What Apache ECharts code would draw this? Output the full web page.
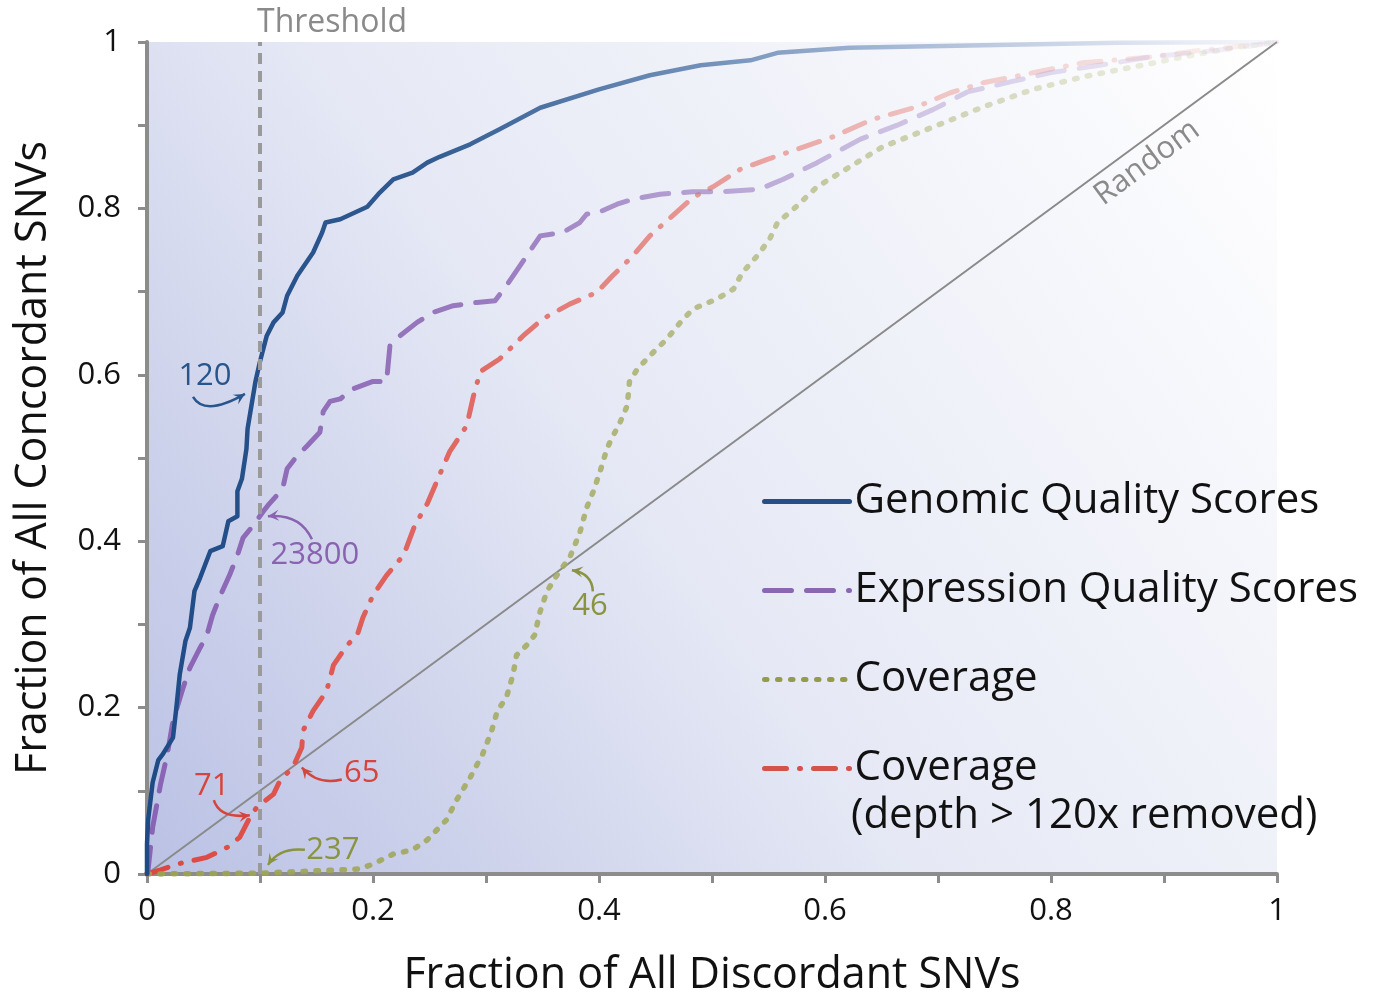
<!DOCTYPE html>
<html><head><meta charset="utf-8">
<script src="https://cdn.jsdelivr.net/npm/echarts@6/dist/echarts.min.js"></script>
<style>html,body{margin:0;padding:0;background:#fff}#main{width:1375px;height:1002px}</style>
</head><body><div id="main"></div>
<script>
// ---------- DATA ----------
const seriesNames = ['Genomic Quality Scores','Expression Quality Scores','Coverage','Coverage (depth > 120x removed)'];
const xTickValues = [0,0.2,0.4,0.6,0.8,1];
const threshold = 0.1;
const genomic = [[0,0],[0,0.036],[0.001,0.065],[0.005,0.11],[0.01,0.137],[0.014,0.144],[0.023,0.164],[0.026,0.2],[0.029,0.24],[0.034,0.28],[0.038,0.296],[0.042,0.34],[0.047,0.356],[0.056,0.388],[0.067,0.394],[0.072,0.424],[0.08,0.43],[0.08,0.46],[0.084,0.475],[0.088,0.511],[0.089,0.535],[0.096,0.592],[0.1,0.616],[0.106,0.647],[0.112,0.663],[0.12,0.675],[0.124,0.695],[0.133,0.719],[0.147,0.747],[0.155,0.771],[0.158,0.783],[0.171,0.787],[0.195,0.802],[0.206,0.819],[0.218,0.835],[0.235,0.843],[0.248,0.855],[0.259,0.862],[0.286,0.877],[0.312,0.895],[0.348,0.921],[0.4,0.943],[0.445,0.96],[0.49,0.972],[0.534,0.978],[0.558,0.987],[0.622,0.993],[0.74,0.996],[0.858,0.999],[1,1]];
const expression = [[0,0],[0.001,0.005],[0.005,0.056],[0.012,0.108],[0.018,0.144],[0.023,0.184],[0.032,0.224],[0.038,0.248],[0.047,0.272],[0.053,0.287],[0.058,0.311],[0.065,0.335],[0.073,0.359],[0.08,0.383],[0.085,0.404],[0.094,0.419],[0.103,0.436],[0.107,0.443],[0.12,0.463],[0.124,0.487],[0.133,0.503],[0.142,0.515],[0.153,0.531],[0.156,0.556],[0.162,0.568],[0.171,0.571],[0.182,0.583],[0.2,0.592],[0.212,0.592],[0.215,0.635],[0.224,0.647],[0.239,0.663],[0.253,0.675],[0.271,0.683],[0.292,0.687],[0.308,0.689],[0.318,0.707],[0.33,0.731],[0.34,0.751],[0.348,0.767],[0.368,0.771],[0.383,0.783],[0.389,0.793],[0.401,0.796],[0.416,0.805],[0.43,0.811],[0.454,0.817],[0.483,0.82],[0.507,0.82],[0.542,0.823],[0.563,0.835],[0.593,0.855],[0.631,0.883],[0.664,0.9],[0.696,0.919],[0.726,0.94],[0.764,0.952],[0.799,0.963],[0.843,0.972],[0.888,0.982],[0.947,0.99],[0.982,0.996],[1,1]];
const coverage = [[0,0],[0.1,0.001],[0.171,0.005],[0.188,0.006],[0.2,0.012],[0.218,0.024],[0.235,0.029],[0.248,0.041],[0.265,0.065],[0.274,0.089],[0.286,0.116],[0.297,0.144],[0.305,0.172],[0.31,0.196],[0.318,0.212],[0.324,0.24],[0.327,0.263],[0.336,0.275],[0.343,0.287],[0.348,0.316],[0.354,0.34],[0.365,0.364],[0.374,0.38],[0.383,0.41],[0.389,0.44],[0.395,0.46],[0.401,0.484],[0.407,0.511],[0.41,0.52],[0.419,0.544],[0.425,0.563],[0.427,0.592],[0.434,0.607],[0.445,0.623],[0.46,0.643],[0.472,0.663],[0.483,0.679],[0.504,0.691],[0.519,0.703],[0.527,0.723],[0.54,0.743],[0.551,0.763],[0.558,0.783],[0.572,0.799],[0.593,0.826],[0.622,0.85],[0.651,0.874],[0.696,0.898],[0.74,0.922],[0.784,0.943],[0.828,0.958],[0.873,0.97],[0.917,0.982],[0.961,0.993],[1,1]];
const coverageFiltered = [[0,0],[0.012,0.005],[0.027,0.012],[0.053,0.02],[0.071,0.032],[0.082,0.044],[0.088,0.06],[0.091,0.068],[0.097,0.08],[0.112,0.096],[0.118,0.113],[0.129,0.128],[0.137,0.152],[0.138,0.172],[0.147,0.196],[0.159,0.22],[0.165,0.251],[0.177,0.275],[0.186,0.287],[0.191,0.308],[0.2,0.335],[0.212,0.359],[0.227,0.383],[0.237,0.419],[0.248,0.445],[0.259,0.48],[0.268,0.508],[0.283,0.539],[0.289,0.575],[0.295,0.604],[0.312,0.619],[0.321,0.631],[0.333,0.647],[0.35,0.667],[0.374,0.685],[0.398,0.699],[0.412,0.719],[0.43,0.743],[0.445,0.767],[0.465,0.791],[0.483,0.813],[0.501,0.826],[0.525,0.847],[0.549,0.859],[0.575,0.871],[0.607,0.886],[0.642,0.907],[0.681,0.922],[0.711,0.939],[0.74,0.951],[0.784,0.963],[0.828,0.975],[0.888,0.982],[0.932,0.99],[0.976,0.996],[1,1]];
const randomLine = [[0,0],[1,1]];
const thresholdLine = [[threshold,0],[threshold,1]];
const annotationLabels = ['120','23800','71','65','237','46'];
const annotationTargets = [[0.0867,0.577],[0.107,0.43],[0.091,0.0707],[0.137,0.128],[0.107,0.011],[0.376,0.365]];

// ---------- STYLE ----------
const FONT = '"Open Sans", "Noto Sans", sans-serif';
const AXIS = '#8c8c8c';
const legendColors = ['#274f86','#8a67b3','#939c48','#d4524c'];
const annColors = ['#28568c','#8a63b0','#d6453d','#d6453d','#8a9440','#8a9440'];
// [textDx,textDy, startDx,startDy, ctrlDx,ctrlDy] in px relative to arrow tip
const annOffsets = [[-40,-18,-52,3,-40,23],[47,39,44,23,32,-3],[-38,-29,-36,-15,-30,4],[60,6,40,12,16,18],[65,-15,37,-15,12,-18],[18,36,21,21,20,3]];

function grad(stops){
  return new echarts.graphic.LinearGradient(0,0,1,0, stops.map(s=>({offset:s[0],color:s[1]})));
}
const lineColors = [
  grad([[0,'rgba(30,74,134,1)'],[0.25,'rgba(40,84,140,0.95)'],[0.5,'rgba(80,118,168,0.78)'],[0.8,'rgba(125,152,196,0.38)'],[1,'rgba(150,170,210,0.08)']]),
  grad([[0,'rgba(138,100,180,1)'],[0.3,'rgba(145,110,185,0.9)'],[0.6,'rgba(165,140,200,0.6)'],[1,'rgba(200,185,225,0.15)']]),
  grad([[0,'rgba(155,162,82,0.95)'],[0.4,'rgba(165,172,98,0.85)'],[0.7,'rgba(180,186,128,0.6)'],[1,'rgba(210,212,170,0.18)']]),
  grad([[0,'rgba(220,70,62,1)'],[0.3,'rgba(225,95,88,0.9)'],[0.6,'rgba(230,130,122,0.6)'],[1,'rgba(240,180,175,0.15)']])
];

function tickFmt(v){
  const k = Math.round(v*10);
  if (k % 2) return '';
  const val = k/10;
  return xTickValues.indexOf(val) >= 0 ? String(val) : '';
}

const dataSets = [genomic, expression, coverage, coverageFiltered];
const dashTypes = ['solid',[27,15],[2.5,10.5],[22,13,1,13]];
const widths = [4.5,5,5.5,5];

const series = dataSets.map((d,i)=>({
  name: seriesNames[i], type:'line', data:d, symbol:'none', showSymbol:false, silent:true,
  z: 5-i,
  itemStyle:{color:legendColors[i]},
  lineStyle:{color:lineColors[i], width:widths[i], type:dashTypes[i], cap:'round', join:'round'}
}));
series.push({name:'Random', type:'line', data:randomLine, symbol:'none', silent:true, z:1,
  lineStyle:{color:'#8a8a8a', width:2}});
series.push({name:'Threshold', type:'line', data:thresholdLine, symbol:'none', silent:true, z:6,
  lineStyle:{color:'#9a9a9a', width:4, type:[11,7]}});

const axisCommon = {
  type:'value', min:0, max:1, interval:0.1,
  axisLine:{show:true, onZero:false, lineStyle:{color:AXIS, width:4}},
  axisTick:{show:true, length:9, lineStyle:{color:AXIS, width:3}},
  splitLine:{show:false},
  axisLabel:{formatter:tickFmt, fontSize:31, color:'#111', fontFamily:FONT},
  nameLocation:'middle',
  nameTextStyle:{fontSize:43, color:'#111', fontFamily:FONT}
};

const option = {
  animation:false,
  backgroundColor:'#fff',
  grid:{left:147, right:98, top:42, bottom:125, show:true, borderWidth:0,
    backgroundColor:new echarts.graphic.LinearGradient(0,1,1,0,[
      {offset:0,color:'#bac1e4'},{offset:0.45,color:'#e6e9f5'},{offset:1,color:'#ffffff'}])},
  xAxis: Object.assign({}, axisCommon, {name:'Fraction of All Discordant SNVs', nameGap:80,
    axisLabel:Object.assign({}, axisCommon.axisLabel, {margin:22})}),
  yAxis: Object.assign({}, axisCommon, {name:'Fraction of All Concordant SNVs', nameGap:92,
    axisLabel:Object.assign({}, axisCommon.axisLabel, {margin:26})}),
  legend:{
    orient:'vertical', left:762, top:478, padding:0, itemWidth:85, itemHeight:16, itemGap:42,
    selectedMode:false,
    formatter:function(n){ return n === seriesNames[3] ? 'Coverage' : n; },
    textStyle:{fontSize:42, lineHeight:47, color:'#111', fontFamily:FONT},
    data: seriesNames.map((n,i)=>({name:n,
      itemStyle:{opacity:0, borderWidth:0},
      lineStyle:{color:legendColors[i], width:5, type:dashTypes[i], cap:'round', opacity:1}}))
  },
  series: series
};

const chart = echarts.init(document.getElementById('main'));
chart.setOption(option);

function px(p){ return chart.convertToPixel({gridIndex:0}, p); }
const graphics = [];
// Threshold label
const tp = px([threshold,1]);
graphics.push({type:'text', x:tp[0]-3, y:tp[1]-19, z:10,
  style:{text:'Threshold', fontSize:32, fill:'#8a8a8a', fontFamily:FONT, align:'left', verticalAlign:'middle'}});
// Random label
const rp = px([0.885,0.855]);
graphics.push({type:'text', x:rp[0], y:rp[1], rotation:Math.atan2(835,1130), z:10,
  style:{text:'Random', fontSize:31, fill:'#8a8a8a', fontFamily:FONT, align:'center', verticalAlign:'middle'}});
// second legend line
graphics.push({type:'text', x:851, y:816, z:10,
  style:{text:'(depth > 120x removed)', fontSize:42, fill:'#111', fontFamily:FONT, align:'left', verticalAlign:'middle'}});
// annotations
annotationLabels.forEach((lab,i)=>{
  const t = px(annotationTargets[i]);
  const o = annOffsets[i];
  const c = annColors[i];
  graphics.push({type:'text', x:t[0]+o[0], y:t[1]+o[1], z:12,
    style:{text:lab, fontSize:31, fill:c, fontFamily:FONT, align:'center', verticalAlign:'middle'}});
  const s = [t[0]+o[2], t[1]+o[3]], cp = [t[0]+o[4], t[1]+o[5]];
  graphics.push({type:'bezierCurve', z:12,
    shape:{x1:s[0], y1:s[1], x2:t[0], y2:t[1], cpx1:cp[0], cpy1:cp[1]},
    style:{stroke:c, lineWidth:2.5, fill:null}});
  let dx=t[0]-cp[0], dy=t[1]-cp[1]; const L=Math.hypot(dx,dy)||1; dx/=L; dy/=L;
  const nx=-dy, ny=dx, hl=11, hw=5.5;
  graphics.push({type:'polygon', z:12,
    shape:{points:[[t[0],t[1]],[t[0]-dx*hl+nx*hw, t[1]-dy*hl+ny*hw],[t[0]-dx*hl*0.6, t[1]-dy*hl*0.6],[t[0]-dx*hl-nx*hw, t[1]-dy*hl-ny*hw]]},
    style:{fill:c}});
});
chart.setOption({graphic:graphics});
</script>
</body></html>
